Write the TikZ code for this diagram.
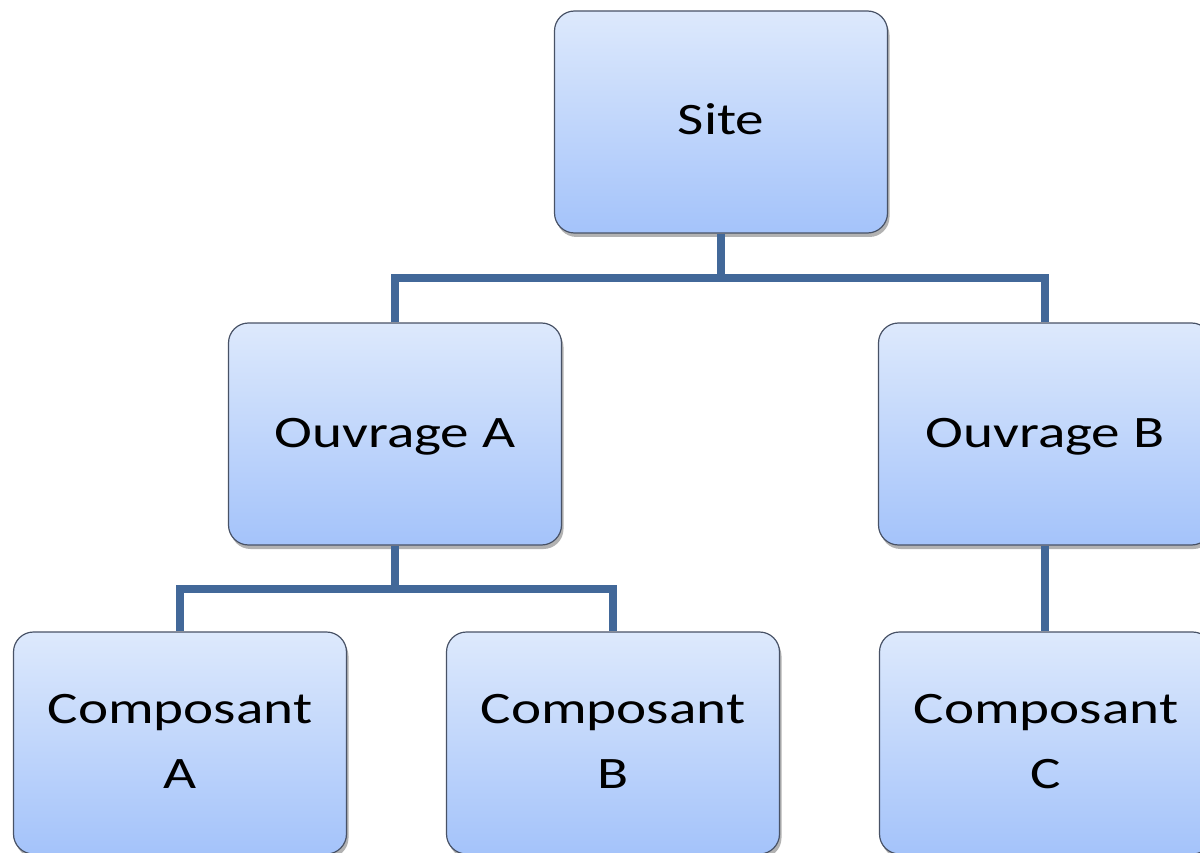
\documentclass[tikz,border=0pt]{standalone}
\usepackage{fontspec}
\usepackage{graphicx}
\setmainfont{Carlito}
\usetikzlibrary{shadows}
\definecolor{boxtop}{RGB}{221,233,252}
\definecolor{boxbot}{RGB}{164,195,250}
\definecolor{boxline}{RGB}{72,82,102}
\definecolor{connline}{RGB}{66,104,153}
\tikzset{
  box/.style={draw=boxline, line width=1.2pt, rounded corners=20pt,
    top color=boxtop, bottom color=boxbot,
    minimum width=333pt, minimum height=222pt, inner sep=0pt,
    drop shadow={shadow xshift=2pt, shadow yshift=-4pt, opacity=0.3, fill=black},
    font=\fontsize{45}{65}\selectfont, text=black},
  conn/.style={draw=connline, line width=8.5pt}
}
\newcommand{\wide}[1]{\scalebox{1.27}[1]{\begin{tabular}{@{}c@{}}#1\end{tabular}}}
\begin{document}
\begin{tikzpicture}[x=1pt,y=-1pt]
\useasboundingbox (0,0) rectangle (1200,853);
\coordinate (j1) at (721,278);
\coordinate (j2) at (395,589);
% connectors (behind boxes)
\node[box] (site) at (721,122) {\wide{Site}};
\node[box] (oa) at (395,434) {\wide{Ouvrage A}};
\node[box] (ob) at (1045,434) {\wide{Ouvrage B}};
\node[box] (ca) at (180,743) {\wide{Composant\\A}};
\node[box] (cb) at (613,743) {\wide{Composant\\B}};
\node[box] (cc) at (1046,743) {\wide{Composant\\C}};
\begin{scope}[on background layer/.try]
\end{scope}
\draw[conn] (site.south) -- (j1);
\draw[conn] (oa.north) |- (j1) -| (ob.north);
\draw[conn] (oa.south) -- (j2);
\draw[conn] (ca.north) |- (j2) -| (cb.north);
\draw[conn] (ob.south) -- (ob.south |- cc.north);
\end{tikzpicture}
\end{document}
